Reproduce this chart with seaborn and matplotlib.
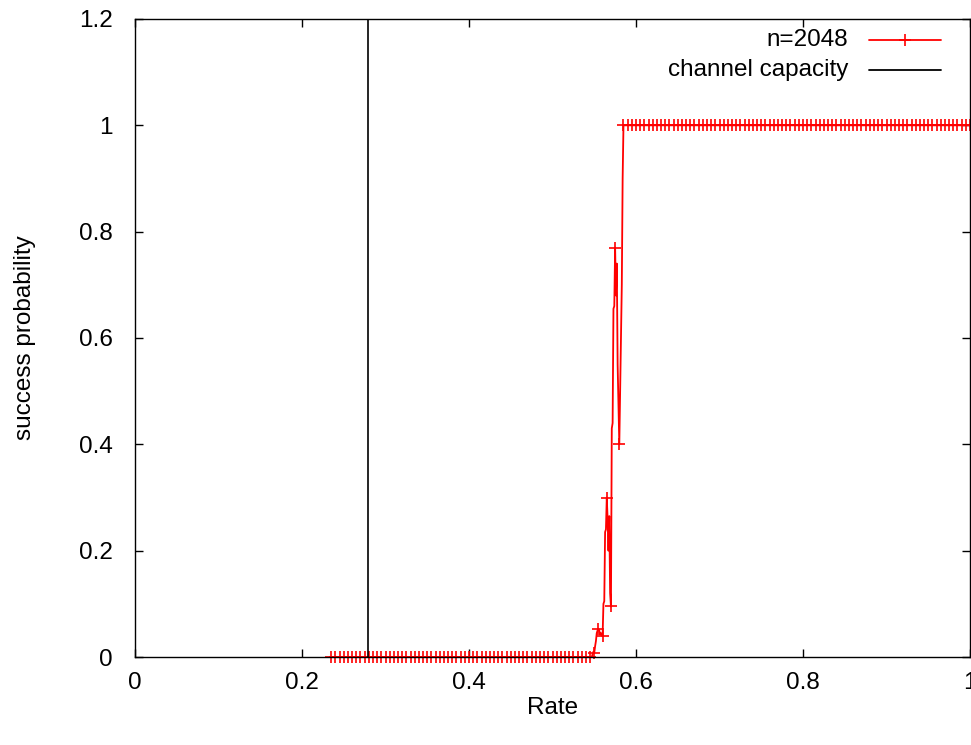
import numpy as np
import pandas as pd
import matplotlib
matplotlib.use("Agg")
import matplotlib.pyplot as plt
import seaborn as sns

# ---- data ----
rate_start_milli = 235   # first sample rate 0.235
rate_end_milli = 1000    # last sample rate 1.000
zeros_before = [0.0] * 311          # 0.235 .. 0.545
transition = [0.0, 0.0, 0.005, 0.01, 0.008, 0.02, 0.03, 0.045, 0.05, 0.053,   # 0.546 .. 0.555
              0.05, 0.042, 0.045, 0.04, 0.04,                                   # 0.556 .. 0.560
              0.10, 0.105, 0.235, 0.24, 0.30,                                   # 0.561 .. 0.565
              0.26, 0.20, 0.265, 0.12, 0.095,                                   # 0.566 .. 0.570
              0.43, 0.44, 0.655, 0.66, 0.77,                                    # 0.571 .. 0.575
              0.68, 0.74, 0.55, 0.47, 0.40,                                     # 0.576 .. 0.580
              0.50, 0.59, 0.70, 0.90]                                           # 0.581 .. 0.584
ones_after = [1.0] * 416            # 0.585 .. 1.000
success = zeros_before + transition + ones_after
rates = [m / 1000 for m in range(rate_start_milli, rate_end_milli + 1)]
capacity_rate = 0.279
series_label = "n=2048"
capacity_label = "channel capacity"
x_ticks = [0, 0.2, 0.4, 0.6, 0.8, 1]
x_ticklabels = ["0", "0.2", "0.4", "0.6", "0.8", "1"]
y_ticks = [0, 0.2, 0.4, 0.6, 0.8, 1, 1.2]
y_ticklabels = ["0", "0.2", "0.4", "0.6", "0.8", "1", "1.2"]

df = pd.DataFrame({"Rate": rates, "success probability": success})

sns.set_style("white")
plt.rcParams["font.family"] = ["Liberation Sans", "DejaVu Sans"]
FS = 17.5
RED = "#ff0000"

fig = plt.figure(figsize=(9.71, 7.45), dpi=100)
ax = fig.add_axes([135 / 971, 1 - 657 / 745, 835 / 971, 638 / 745])

sns.lineplot(data=df, x="Rate", y="success probability", ax=ax,
             color=RED, linewidth=1.3, marker="+", markersize=9,
             markeredgewidth=1.2, markeredgecolor=RED, markerfacecolor=RED,
             markevery=5, estimator=None, sort=False, clip_on=False, zorder=1)
ax.axvline(capacity_rate, color="black", linewidth=1.2, zorder=3)

ax.set_xlim(0, 1)
ax.set_ylim(0, 1.2)
ax.set_xticks(x_ticks)
ax.set_xticklabels(x_ticklabels)
ax.set_yticks(y_ticks)
ax.set_yticklabels(y_ticklabels)
ax.tick_params(direction="in", length=6, width=1, color="black",
               top=True, right=True, bottom=True, left=True,
               labelsize=FS, labelcolor="black")
ax.tick_params(axis="x", pad=11)
ax.tick_params(axis="y", pad=16)
for s in ax.spines.values():
    s.set_color("black")
    s.set_linewidth(1.0)
    s.set_zorder(5)
ax.set_xlabel("Rate", fontsize=FS, color="black", labelpad=2)
ax.set_ylabel("success probability", fontsize=FS, color="black", labelpad=31)

# manual gnuplot-style key (text right-aligned, sample on the right)
tx = (848 - 135) / 835
lx0, lx1 = (869 - 135) / 835, (941 - 135) / 835
for yy, lab, col, mk in [(1 - (40 - 19) / 638, series_label, RED, "+"),
                         (1 - (70 - 19) / 638, capacity_label, "black", None)]:
    ax.text(tx, yy, lab, transform=ax.transAxes, ha="right", va="center",
            fontsize=FS, color="black")
    ax.plot([lx0, lx1], [yy, yy], transform=ax.transAxes, color=col,
            linewidth=1.3, clip_on=False)
    if mk:
        ax.plot([(lx0 + lx1) / 2], [yy], transform=ax.transAxes, color=col,
                marker=mk, markersize=9, markeredgewidth=1.2, clip_on=False)

fig.savefig("out.png", dpi=100)
